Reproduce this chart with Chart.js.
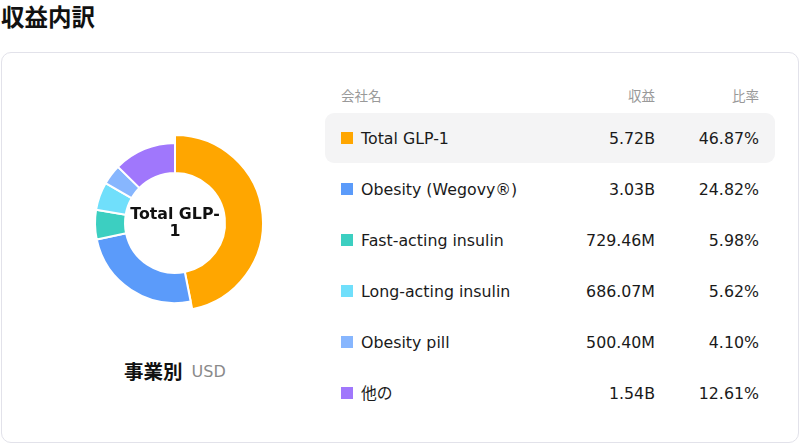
<!DOCTYPE html>
<html>
<head>
<meta charset="utf-8">
<script src="https://cdn.jsdelivr.net/npm/chart.js@4.4.1/dist/chart.umd.min.js"></script>
<style>
  html, body { margin: 0; padding: 0; background: #fff; width: 800px; height: 444px; overflow: hidden; font-family: "DejaVu Sans", "Noto Sans CJK JP", sans-serif; }
  #title { position: absolute; left: 1px; top: 0; font-family: "Noto Sans CJK JP", sans-serif; font-weight: 700; font-size: 23.5px; line-height: 32px; color: #111; }
  #card { position: absolute; left: 1px; top: 52px; width: 796px; height: 389px; border: 1px solid #e2e2ea; border-radius: 10px; box-sizing: content-box; }
  #chartWrap { position: absolute; left: 75px; top: 123px; width: 200px; height: 200px; }
  #center { position: absolute; left: 127px; width: 96px; top: 205px; text-align: center; font-weight: 700; font-size: 15.8px; line-height: 17px; color: #111; }
  #sub { position: absolute; left: 124px; top: 356px; font-size: 0; white-space: nowrap; }
  #sub .a { font-family: "Noto Sans CJK JP", sans-serif; font-weight: 700; font-size: 19.5px; color: #111; vertical-align: middle; }
  #sub .b { font-size: 16px; color: #8a8a8a; margin-left: 9px; vertical-align: middle; position: relative; top: 1px; }
  .hdr { position: absolute; top: 86px; font-family: "Noto Sans CJK JP", sans-serif; font-size: 13.5px; line-height: 18px; color: #999; }
  .row { position: absolute; left: 325px; width: 450px; height: 50px; border-radius: 9px; }
  .row.hl { background: #f4f4f5; }
  .sw { position: absolute; left: 16px; top: 19px; width: 12px; height: 12px; }
  .nm { position: absolute; left: 36px; top: 15px; font-size: 15.8px; line-height: 21px; color: #1a1a1a; white-space: nowrap; }
  .v1 { position: absolute; right: 120px; top: 15px; font-size: 15.8px; line-height: 21px; color: #1a1a1a; text-align: right; }
  .v2 { position: absolute; right: 16px; top: 15px; font-size: 15.8px; line-height: 21px; color: #1a1a1a; text-align: right; }
</style>
</head>
<body>
<div id="title">収益内訳</div>
<div id="card"></div>
<div id="chartWrap"><canvas id="c"></canvas></div>
<div id="center"></div>
<div id="sub"><span class="a">事業別</span><span class="b">USD</span></div>
<div class="hdr" style="left:341px;">会社名</div>
<div class="hdr" style="right:145px;">収益</div>
<div class="hdr" style="right:41px;">比率</div>
<div id="rows"></div>
<script>
const categories = ["Total GLP-1", "Obesity (Wegovy®)", "Fast-acting insulin", "Long-acting insulin", "Obesity pill", "他の"];
const revenueMillions = [5720, 3030, 729.46, 686.07, 500.40, 1540];
const revenueLabels = ["5.72B", "3.03B", "729.46M", "686.07M", "500.40M", "1.54B"];
const sharePercent = ["46.87%", "24.82%", "5.98%", "5.62%", "4.10%", "12.61%"];
const colors = ["#FFA600", "#5B9BFA", "#3CCFC1", "#70DFFB", "#87B6FE", "#A077FC"];
const highlighted = 0;

document.getElementById('center').textContent = categories[highlighted];

const rowsEl = document.getElementById('rows');
categories.forEach((name, i) => {
  const r = document.createElement('div');
  r.className = 'row' + (i === highlighted ? ' hl' : '');
  r.style.top = (113 + 51 * i) + 'px';
  r.innerHTML = '<div class="sw" style="background:' + colors[i] + '"></div>' +
    '<div class="nm"></div><div class="v1"></div><div class="v2"></div>';
  r.querySelector('.nm').textContent = name;
  r.querySelector('.v1').textContent = revenueLabels[i];
  r.querySelector('.v2').textContent = sharePercent[i];
  rowsEl.appendChild(r);
});

const growPlugin = {
  id: 'grow',
  beforeDatasetsDraw(chart) {
    const meta = chart.getDatasetMeta(0);
    const ref = meta.data[highlighted === 0 ? 1 : 0];
    meta.data[highlighted].outerRadius = ref.outerRadius + 8;
  }
};

new Chart(document.getElementById('c'), {
  type: 'doughnut',
  data: {
    labels: categories,
    datasets: [{
      data: revenueMillions,
      backgroundColor: colors,
      borderColor: '#ffffff',
      borderWidth: 2,
      hoverBorderWidth: 2,
      clip: false
    }]
  },
  options: {
    responsive: true,
    maintainAspectRatio: false,
    animation: false,
    cutout: '62.5%',
    layout: { padding: 19 },
    events: [],
    plugins: { legend: { display: false }, tooltip: { enabled: false } }
  },
  plugins: [growPlugin]
});
</script>
</body>
</html>
